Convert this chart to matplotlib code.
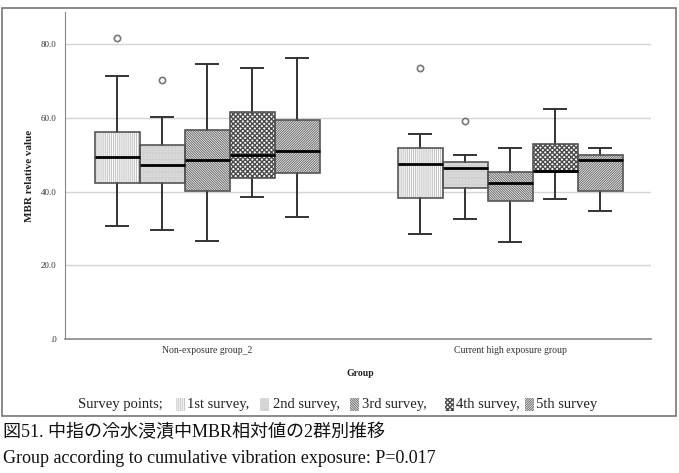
import matplotlib
matplotlib.use("Agg")
import matplotlib.pyplot as plt
from matplotlib.patches import Rectangle, PathPatch
import numpy as np

plt.rcParams['hatch.linewidth'] = 0.6

groups = ["Non-exposure group_2", "Current high exposure group"]
surveys = ["1st survey", "2nd survey", "3rd survey", "4th survey", "5th survey"]

# [group][survey]
q1 = [[42.2, 42.2, 40.1, 43.6, 44.9],
      [38.3, 41.0, 37.3, 45.4, 40.1]]
med = [[49.5, 47.1, 48.5, 49.9, 51.0],
       [47.5, 46.4, 42.4, 45.6, 48.5]]
q3 = [[56.1, 52.6, 56.7, 61.5, 59.4],
      [51.7, 48.1, 45.4, 53.0, 49.8]]
whislo = [[30.7, 29.7, 26.7, 38.4, 33.2],
          [28.6, 32.5, 26.2, 38.0, 34.7]]
whishi = [[71.3, 60.1, 74.6, 73.6, 76.3],
          [55.5, 49.9, 51.9, 62.3, 51.9]]
fliers = [[[81.7], [70.2], [], [], []],
          [[73.6], [59.0], [], [], []]]

yticks = [0, 20, 40, 60, 80]
ytick_labels = [".0", "20.0", "40.0", "60.0", "80.0"]

hatches = ["|" * 8, "." * 14, "\\" * 14, "x" * 7, "/" * 14]
hatch_colors = ["#c4c4c4", "#a8a8a8", "#666666", "#4a4a4a", "#666666"]
hatch_lw = [0.8, 0.6, 0.7, 1.0, 0.7]

W, H = 679, 473
fig = plt.figure(figsize=(W / 100, H / 100), dpi=100)

# outer frame
fig.add_artist(Rectangle((2 / W, 1 - 416 / H), 674 / W, 408 / H, transform=fig.transFigure,
                         fill=False, edgecolor="#777777", linewidth=1.2))

ax = fig.add_axes([65 / W, 1 - 339 / H, (651 - 65) / W, (339 - 12) / H])

bw = 0.1485
serif = "Liberation Serif"
for gi, g in enumerate(groups):
    for si in range(len(surveys)):
        pos = gi + (si - 2) * bw
        st = dict(med=med[gi][si], q1=q1[gi][si], q3=q3[gi][si],
                  whislo=whislo[gi][si], whishi=whishi[gi][si],
                  fliers=fliers[gi][si])
        res = ax.bxp([st], positions=[pos], widths=bw, patch_artist=True,
                     showfliers=True, capwidths=bw * 0.5,
                     whiskerprops=dict(color="#333333", linewidth=1.4),
                     capprops=dict(color="#333333", linewidth=1.4),
                     medianprops=dict(color="black", linewidth=2.0),
                     flierprops=dict(marker="o", markersize=4.5, markerfacecolor="none",
                                     markeredgecolor="#777777", markeredgewidth=1.2))
        for b in res["boxes"]:
            b.set_facecolor("white")
            b.set_hatch(hatches[si])
            b.set_edgecolor(hatch_colors[si])
            b.set_linewidth(0)
            b.set_zorder(2)
            try:
                b.set_hatch_linewidth(hatch_lw[si])
            except Exception:
                pass
            outline = PathPatch(b.get_path(), transform=b.get_transform(), fill=False,
                                edgecolor="#555555", linewidth=1.2, zorder=2.5)
            ax.add_patch(outline)
        for m in res["medians"]:
            m.set_zorder(3)

ax.set_xlim(-0.469, 1.465)
ax.set_ylim(0, 88.7)
ax.set_yticks(yticks)
ax.set_yticklabels(ytick_labels, fontsize=6.5, color="#333333", family=serif)
ax.set_xticks([0, 1])
ax.set_xticklabels(groups, fontsize=7, color="#333333", family=serif)
ax.tick_params(length=0, pad=5)
ax.tick_params(axis="y", pad=6)
for y in yticks[1:]:
    ax.axhline(y, color="#d4d4d4", linewidth=1.0, zorder=0)
for s in ["top", "right"]:
    ax.spines[s].set_visible(False)
ax.spines["left"].set_color("#888888")
ax.spines["bottom"].set_color("#888888")
ax.spines["bottom"].set_linewidth(1.2)

fig.text(30 / W, 1 - 176 / H, "MBR relative value", rotation=90, ha="center", va="center",
         fontsize=8, fontweight="bold", family=serif, color="#222222")
fig.text(360 / W, 1 - 374 / H, "Group", ha="center", va="center",
         fontsize=7, fontweight="bold", family=serif, color="#222222")

# legend row
ly = 1 - 404 / H
fig.text(78 / W, ly, "Survey points;", ha="left", va="center", fontsize=10.5,
         family=serif, color="#222222")
icon_x = [176, 260, 350, 445, 525]
text_x = [187, 273, 362, 456, 536]
for si, s in enumerate(surveys):
    r = Rectangle((icon_x[si] / W, 1 - 411 / H), 9 / W, 13 / H, transform=fig.transFigure,
                  facecolor="white", edgecolor=hatch_colors[si], hatch=hatches[si], linewidth=0)
    try:
        r.set_hatch_linewidth(hatch_lw[si])
    except Exception:
        pass
    fig.add_artist(r)
    lab = s + ("," if si < len(surveys) - 1 else "")
    fig.text(text_x[si] / W, ly, lab, ha="left", va="center", fontsize=10.5,
             family=serif, color="#222222")

fig.text(3 / W, 1 - 432 / H, "図51. 中指の冷水浸漬中MBR相対値の2群別推移", ha="left", va="center",
         fontsize=13, family=[serif, "Noto Sans CJK JP"], color="#111111")
fig.text(3 / W, 1 - 458 / H, "Group according to cumulative vibration exposure: P=0.017",
         ha="left", va="center", fontsize=13, family=serif, color="#111111")

fig.savefig("out.png", dpi=100)
